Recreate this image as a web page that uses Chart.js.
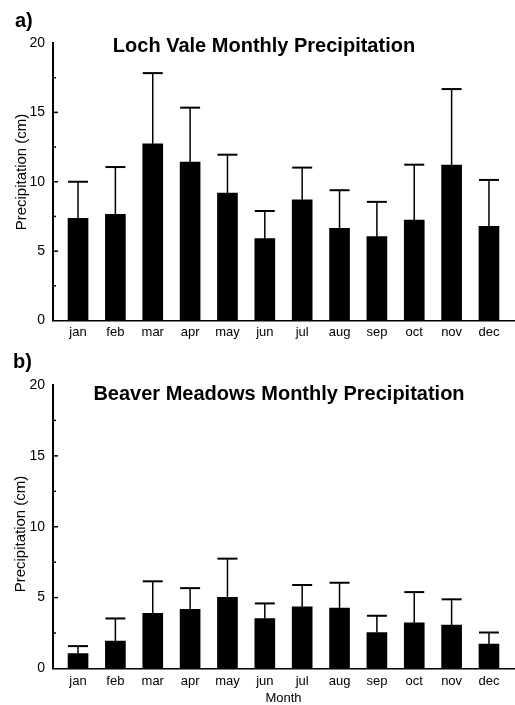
<!DOCTYPE html>
<html><head><meta charset="utf-8">
<script src="https://cdn.jsdelivr.net/npm/chart.js@4.4.1/dist/chart.umd.min.js"></script>
<style>
html,body{margin:0;padding:0;background:#fff;}
#wrap{position:relative;width:515px;height:705px;overflow:hidden;font-family:"Liberation Sans",Arial,Helvetica,sans-serif;color:#000;}
canvas{position:absolute;left:0;}
.t{position:absolute;white-space:nowrap;line-height:1;}
.b{font-weight:bold;font-size:20px;}
.ttl{transform:translateX(-50%);}
.yl{font-size:15px;transform:translate(-50%,-50%) rotate(-90deg);}
</style></head><body>
<div id="wrap">
<canvas id="c1" width="515" height="345" style="top:0"></canvas>
<canvas id="c2" width="515" height="360" style="top:345px"></canvas>
<div class="t b" style="left:15px;top:10px">a)</div>
<div class="t b ttl" style="left:264px;top:35px">Loch Vale Monthly Precipitation</div>
<div class="t yl" style="left:19.5px;top:172px">Precipitation (cm)</div>
<div class="t b" style="left:13px;top:351px">b)</div>
<div class="t b ttl" style="left:279px;top:383px">Beaver Meadows Monthly Precipitation</div>
<div class="t yl" style="left:18.5px;top:534px">Precipitation (cm)</div>
</div>
<script>
const months = ['jan','feb','mar','apr','may','jun','jul','aug','sep','oct','nov','dec'];
const lochMean = [7.36, 7.65, 12.74, 11.42, 9.18, 5.9, 8.7, 6.64, 6.04, 7.24, 11.2, 6.79];
const lochSd   = [2.64, 3.41, 5.09, 3.92, 2.77, 1.99, 2.32, 2.75, 2.51, 3.99, 5.48, 3.34];
const beaverMean = [1.06, 1.93, 3.89, 4.17, 5.02, 3.53, 4.35, 4.26, 2.54, 3.22, 3.06, 1.72];
const beaverSd   = [0.52, 1.6, 2.26, 1.5, 2.73, 1.06, 1.54, 1.79, 1.18, 2.17, 1.82, 0.82];
const yMin = 0, yMax = 20, yLabelStep = 5;

Chart.defaults.font.family = '"Liberation Sans", Arial, Helvetica, sans-serif';
Chart.defaults.color = '#000';

const errorBars = {
  id: 'errorBars',
  afterDatasetsDraw(chart) {
    const ctx = chart.ctx;
    const ds = chart.data.datasets[0];
    const meta = chart.getDatasetMeta(0);
    const ys = chart.scales.y;
    ctx.save();
    ctx.strokeStyle = '#000';
    meta.data.forEach((bar, i) => {
      const v = ds.data[i].y;
      const yTop = ys.getPixelForValue(v + ds.sd[i]);
      const yBase = ys.getPixelForValue(v);
      const half = bar.width / 2;
      ctx.lineWidth = 1.5;
      ctx.beginPath();
      ctx.moveTo(bar.x, yBase); ctx.lineTo(bar.x, yTop);
      ctx.stroke();
      ctx.lineWidth = 2;
      ctx.beginPath();
      ctx.moveTo(bar.x - half, yTop); ctx.lineTo(bar.x + half, yTop);
      ctx.stroke();
    });
    ctx.restore();
  }
};

const inTicks = {
  id: 'inTicks',
  afterDraw(chart) {
    const ys = chart.scales.y, ctx = chart.ctx, left = chart.chartArea.left;
    ctx.save();
    ctx.strokeStyle = '#000';
    ctx.lineWidth = 1.5;
    ys.ticks.forEach(t => {
      if (t.value === yMin || t.value === yMax) return;
      const y = ys.getPixelForValue(t.value);
      const len = t.value % yLabelStep === 0 ? 5 : 3;
      ctx.beginPath(); ctx.moveTo(left, y); ctx.lineTo(left + len, y); ctx.stroke();
    });
    ctx.restore();
  }
};

function makeChart(id, mean, sd, padTop, xHeight, xTitle, tickPad) {
  return new Chart(document.getElementById(id), {
    type: 'bar',
    data: { datasets: [{ data: mean.map((v, i) => ({x: i, y: v})), sd: sd,
      backgroundColor: '#000', borderWidth: 0, barThickness: 20 }] },
    options: {
      responsive: false, animation: false,
      layout: { padding: { top: padTop, right: 1, left: 0, bottom: 0 } },
      plugins: { legend: { display: false }, tooltip: { enabled: false } },
      scales: {
        x: { type: 'linear', min: -0.67, max: 11.67, offset: false,
          grid: { display: false, drawTicks: false }, border: { display: true, color: '#000', width: 1.5 },
          ticks: { stepSize: 1, includeBounds: false, autoSkip: false, maxTicksLimit: 20, maxRotation: 0,
            padding: tickPad, color: '#000', font: { size: 13 },
            callback: (v) => (months[v] !== undefined ? months[v] : '') },
          title: { display: !!xTitle, text: xTitle || '', color: '#000', font: { size: 13, lineHeight: 1 }, padding: 0 },
          afterFit: (s) => { s.height = xHeight; } },
        y: { min: yMin, max: yMax, grid: { display: false, drawTicks: false }, border: { display: true, color: '#000', width: 2 },
          ticks: { stepSize: 2.5, maxTicksLimit: 20, padding: 8, color: '#000', font: { size: 14 },
            callback: (v) => (v % yLabelStep === 0 ? v : '') },
          afterFit: (s) => { s.width = 53; } }
      }
    },
    plugins: [errorBars, inTicks]
  });
}

makeChart('c1', lochMean, lochSd, 43, 24.5, '', 4);
makeChart('c2', beaverMean, beaverSd, 40, 36.5, 'Month', 5);
</script>
</body></html>
